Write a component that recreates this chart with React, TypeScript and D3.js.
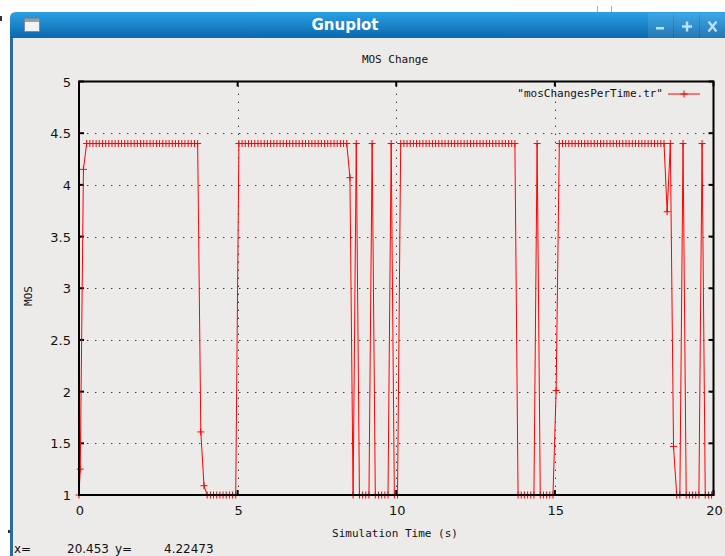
import React from "react";
import * as d3 from "d3";

// ---------------- data ----------------
const sampleTimes = [
  0,
  0.04, 0.14, 0.24, 0.34, 0.44, 0.54, 0.64, 0.74, 0.84, 0.94,
  1.04, 1.14, 1.24, 1.34, 1.44, 1.54, 1.64, 1.74, 1.84, 1.94,
  2.04, 2.14, 2.24, 2.34, 2.44, 2.54, 2.64, 2.74, 2.84, 2.94,
  3.04, 3.14, 3.24, 3.34, 3.44, 3.54, 3.64, 3.74, 3.84, 3.94,
  4.04, 4.14, 4.24, 4.34, 4.44, 4.54, 4.64, 4.74, 4.84, 4.94,
  5.04, 5.14, 5.24, 5.34, 5.44, 5.54, 5.64, 5.74, 5.84, 5.94,
  6.04, 6.14, 6.24, 6.34, 6.44, 6.54, 6.64, 6.74, 6.84, 6.94,
  7.04, 7.14, 7.24, 7.34, 7.44, 7.54, 7.64, 7.74, 7.84, 7.94,
  8.04, 8.14, 8.24, 8.34, 8.44, 8.54, 8.64, 8.74, 8.84, 8.94,
  9.04, 9.14, 9.24, 9.34, 9.44, 9.54, 9.64, 9.74, 9.84, 9.94,
  10.04, 10.14, 10.24, 10.34, 10.44, 10.54, 10.64, 10.74, 10.84, 10.94,
  11.04, 11.14, 11.24, 11.34, 11.44, 11.54, 11.64, 11.74, 11.84, 11.94,
  12.04, 12.14, 12.24, 12.34, 12.44, 12.54, 12.64, 12.74, 12.84, 12.94,
  13.04, 13.14, 13.24, 13.34, 13.44, 13.54, 13.64, 13.74, 13.84, 13.94,
  14.04, 14.14, 14.24, 14.34, 14.44, 14.54, 14.64, 14.74, 14.84, 14.94,
  15.04, 15.14, 15.24, 15.34, 15.44, 15.54, 15.64, 15.74, 15.84, 15.94,
  16.04, 16.14, 16.24, 16.34, 16.44, 16.54, 16.64, 16.74, 16.84, 16.94,
  17.04, 17.14, 17.24, 17.34, 17.44, 17.54, 17.64, 17.74, 17.84, 17.94,
  18.04, 18.14, 18.24, 18.34, 18.44, 18.54, 18.64, 18.74, 18.84, 18.94,
  19.04, 19.14, 19.24, 19.34, 19.44, 19.54, 19.64, 19.74, 19.84, 19.94,
];

const mosValues = [
  1.0,
  1.25, 4.15, 4.4, 4.4, 4.4, 4.4, 4.4, 4.4, 4.4, 4.4,
  4.4, 4.4, 4.4, 4.4, 4.4, 4.4, 4.4, 4.4, 4.4, 4.4,
  4.4, 4.4, 4.4, 4.4, 4.4, 4.4, 4.4, 4.4, 4.4, 4.4,
  4.4, 4.4, 4.4, 4.4, 4.4, 4.4, 4.4, 4.4, 1.61, 1.09,
  1.0, 1.0, 1.0, 1.0, 1.0, 1.0, 1.0, 1.0, 1.0, 1.0,
  4.4, 4.4, 4.4, 4.4, 4.4, 4.4, 4.4, 4.4, 4.4, 4.4,
  4.4, 4.4, 4.4, 4.4, 4.4, 4.4, 4.4, 4.4, 4.4, 4.4,
  4.4, 4.4, 4.4, 4.4, 4.4, 4.4, 4.4, 4.4, 4.4, 4.4,
  4.4, 4.4, 4.4, 4.4, 4.4, 4.07, 1.0, 4.4, 1.0, 1.0,
  1.0, 1.0, 4.4, 1.0, 1.0, 1.0, 1.0, 1.0, 4.4, 1.0,
  1.0, 4.4, 4.4, 4.4, 4.4, 4.4, 4.4, 4.4, 4.4, 4.4,
  4.4, 4.4, 4.4, 4.4, 4.4, 4.4, 4.4, 4.4, 4.4, 4.4,
  4.4, 4.4, 4.4, 4.4, 4.4, 4.4, 4.4, 4.4, 4.4, 4.4,
  4.4, 4.4, 4.4, 4.4, 4.4, 4.4, 4.4, 4.4, 1.0, 1.0,
  1.0, 1.0, 1.0, 1.0, 4.4, 1.0, 1.0, 1.0, 1.0, 1.0,
  2.01, 4.4, 4.4, 4.4, 4.4, 4.4, 4.4, 4.4, 4.4, 4.4,
  4.4, 4.4, 4.4, 4.4, 4.4, 4.4, 4.4, 4.4, 4.4, 4.4,
  4.4, 4.4, 4.4, 4.4, 4.4, 4.4, 4.4, 4.4, 4.4, 4.4,
  4.4, 4.4, 4.4, 4.4, 4.4, 3.74, 4.4, 1.47, 1.0, 1.0,
  4.4, 1.0, 1.0, 1.0, 1.0, 1.0, 4.4, 1.0, 1.0, 1.0,
];

const xTicks = [0, 5, 10, 15, 20];
const yTicks = [1, 1.5, 2, 2.5, 3, 3.5, 4, 4.5, 5];
const yTickLabels = ["1", "1.5", "2", "2.5", "3", "3.5", "4", "4.5", "5"];
const seriesName = '"mosChangesPerTime.tr"';
const chartTitle = "MOS Change";
const xLabel = "Simulation Time (s)";
const yLabel = "MOS";
const windowTitle = "Gnuplot";
const statusParts = ["x=", "20.453", "y=", "4.22473"];

// ---------------- layout ----------------
const W = 725;
const H = 556;
const mono = "'DejaVu Sans Mono', monospace";
const sans = "'DejaVu Sans', sans-serif";

export default function App() {
  const x = d3.scaleLinear().domain([0, 20]).range([79, 713.5]);
  const y = d3.scaleLinear().domain([1, 5]).range([495, 81.5]);
  const pts: [number, number][] = sampleTimes.map((t, i) => [t, mosValues[i]]);
  const line = d3
    .line<[number, number]>()
    .x((d) => x(d[0]))
    .y((d) => y(d[1]));
  const plus = (cx: number, cy: number, s = 3.5) =>
    `M${cx - s},${cy}H${cx + s}M${cx},${cy - s}V${cy + s}`;

  const x0 = x(0), x1 = x(20), yTop = y(5), yBot = y(1);
  const statusX = [14, 67, 115, 164];

  return (
    <svg
      width={W}
      height={H}
      style={{ position: "absolute", left: 0, top: 0, display: "block" }}
      xmlns="http://www.w3.org/2000/svg"
    >
      <defs>
        <linearGradient id="tb" x1="0" y1="0" x2="0" y2="1">
          <stop offset="0" stopColor="#2aa0e6" />
          <stop offset="1" stopColor="#0c68ae" />
        </linearGradient>
      </defs>
      {/* page background */}
      <rect x={0} y={0} width={W} height={H} fill="#ffffff" />
      <rect x={597} y={6} width={1} height={6} fill="#aaaaaa" />
      <rect x={611} y={6} width={1} height={6} fill="#aaaaaa" />
      <rect x={0} y={16} width={2} height={5} fill="#333" />
      <rect x={8} y={530} width={2} height={3} fill="#333" />

      {/* window */}
      <path d={`M10,${H}V18Q10,12 16,12H${W}V${H}Z`} fill="#edebe9" />
      <path d={`M10,38V18Q10,12 16,12H${W}V38Z`} fill="url(#tb)" />
      <rect x={10} y={38} width={3} height={H - 38} fill="#2a6c9c" />
      {/* window icon */}
      <rect x={24.5} y={18.5} width={15} height={13} fill="#f2f2f2" stroke="#7a8a99" />
      <rect x={25} y={19} width={14} height={3} fill="#8fa3b5" />
      <text
        x={345}
        y={30}
        textAnchor="middle"
        fontFamily={sans}
        fontWeight="bold"
        fontSize={15}
        fill="#ffffff"
      >
        {windowTitle}
      </text>
      {/* window buttons */}
      {[648, 674, 700].map((bx, i) => (
        <rect key={i} x={bx} y={13} width={25} height={25} fill="#ffffff" opacity={0.1} />
      ))}
      <rect x={656} y={27} width={8} height={2.5} fill="#bfe0f6" />
      <path d="M682,26.5H692M687,21.5V31.5" stroke="#bfe0f6" strokeWidth={2.5} />
      <path d="M708.5,21.5L716.5,31.5M716.5,21.5L708.5,31.5" stroke="#bfe0f6" strokeWidth={2.2} />

      {/* grid */}
      <g stroke="#000" strokeWidth={1} strokeDasharray="1.4,6.6" opacity={0.75}>
        {xTicks
          .filter((t) => t > 0 && t < 20)
          .map((t) => (
            <line key={"gx" + t} x1={Math.round(x(t)) + 0.5} x2={Math.round(x(t)) + 0.5} y1={yBot} y2={yTop} />
          ))}
        {yTicks
          .filter((t) => t > 1 && t < 5)
          .map((t) => (
            <line key={"gy" + t} x1={x0} x2={x1} y1={Math.round(y(t)) + 0.5} y2={Math.round(y(t)) + 0.5} />
          ))}
      </g>

      {/* ticks */}
      <g stroke="#000" strokeWidth={2}>
        {yTicks.map((t) => (
          <g key={"ty" + t}>
            <line x1={x0} x2={x0 + 5} y1={y(t)} y2={y(t)} />
            <line x1={x1} x2={x1 - 5} y1={y(t)} y2={y(t)} />
          </g>
        ))}
        {xTicks.map((t) => (
          <g key={"tx" + t}>
            <line x1={x(t)} x2={x(t)} y1={yBot} y2={yBot - 5} />
            <line x1={x(t)} x2={x(t)} y1={yTop} y2={yTop + 5} />
          </g>
        ))}
      </g>

      {/* data */}
      <path d={line(pts) || ""} fill="none" stroke="#ff0000" strokeWidth={1} />
      <path
        d={pts.map((d) => plus(x(d[0]), y(d[1]))).join("")}
        fill="none"
        stroke="#ff0000"
        strokeWidth={1}
      />

      {/* border */}
      <rect
        x={x0}
        y={yTop}
        width={x1 - x0}
        height={yBot - yTop}
        fill="none"
        stroke="#000"
        strokeWidth={2}
      />

      {/* tick labels */}
      <g fontFamily={sans} fontSize={13} fill="#111">
        {yTicks.map((t, i) => (
          <text key={"ly" + t} x={71} y={y(t) + 5} textAnchor="end">
            {yTickLabels[i]}
          </text>
        ))}
        {xTicks.map((t) => (
          <text key={"lx" + t} x={x(t) + 1} y={515} textAnchor="middle">
            {String(t)}
          </text>
        ))}
      </g>

      {/* titles */}
      <text x={395} y={63} textAnchor="middle" fontFamily={mono} fontSize={11} fill="#111">
        {chartTitle}
      </text>
      <text x={395} y={537} textAnchor="middle" fontFamily={mono} fontSize={11} fill="#111">
        {xLabel}
      </text>
      <text
        transform="translate(32,296) rotate(-90)"
        textAnchor="middle"
        fontFamily={mono}
        fontSize={11}
        fill="#111"
      >
        {yLabel}
      </text>

      {/* legend */}
      <text x={663} y={97} textAnchor="end" fontFamily={mono} fontSize={11} fill="#111">
        {seriesName}
      </text>
      <line x1={668} x2={700} y1={94} y2={94} stroke="#ff0000" strokeWidth={1} />
      <path d={plus(684, 94)} stroke="#ff0000" strokeWidth={1} fill="none" />

      {/* status line */}
      <g fontFamily={sans} fontSize={12} fill="#111">
        {statusParts.map((s, i) => (
          <text key={"st" + i} x={statusX[i]} y={553}>
            {s}
          </text>
        ))}
      </g>
    </svg>
  );
}
